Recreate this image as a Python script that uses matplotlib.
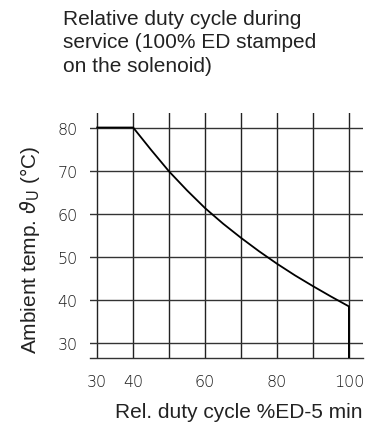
import matplotlib
matplotlib.use('Agg')
import matplotlib.pyplot as plt

# duty cycle (%ED) vs. max ambient temperature
ed = [30, 40, 45, 50, 55, 60, 65, 70, 75, 80, 85, 90, 95, 100, 100]
temp = [80, 80, 74.8, 69.8, 65.4, 61.3, 57.7, 54.4, 51.3, 48.4, 45.7, 43.2, 40.8, 38.5, 26.6]

xticks = [30, 40, 60, 80, 100]
yticks = [30, 40, 50, 60, 70, 80]
xgrid = [30, 40, 50, 60, 70, 80, 90, 100]

plt.rcParams['font.family'] = ['Liberation Sans', 'DejaVu Sans']

fig = plt.figure(figsize=(3.69, 4.35), dpi=100)
ax = fig.add_axes([90/369, 76.3/435, 273.3/369, 244.4/435])

for x in xgrid:
    ax.axvline(x, color='#222222', lw=1.0, zorder=1)
for y in yticks:
    ax.axhline(y, color='#333333', lw=1.0, zorder=1)

ax.plot(ed, temp, color='black', lw=1.3, zorder=3)

ax.set_xlim(28, 104)
ax.set_ylim(26.6, 83.3)
ax.set_xticks(xticks)
ax.set_yticks(yticks)
ax.tick_params(length=0, labelsize=11.5, colors='#1a1a1a')
ax.tick_params(axis='y', pad=9)
ax.tick_params(axis='x', pad=12)
for lab in ax.get_xticklabels() + ax.get_yticklabels():
    lab.set_family('DejaVu Sans')
    lab.set_fontweight('light')

for s in ['top', 'right', 'left']:
    ax.spines[s].set_visible(False)
ax.spines['bottom'].set_color('#333333')
ax.spines['bottom'].set_linewidth(1.0)

fig.text(63/369, 1 - 10/435,
         "Relative duty cycle during\nservice (100% ED stamped\non the solenoid)",
         ha='left', va='top', fontsize=15, color='#222222', linespacing=1.3)
fig.text(30/369, 1 - 250/435, r"Ambient temp. $\vartheta_{\mathrm{U}}$ (°C)",
         rotation=90, ha='center', va='center', fontsize=15, color='#222222')
fig.text(115/369, 1 - 413/435, "Rel. duty cycle %ED-5 min",
         ha='left', va='center', fontsize=15, color='#222222')

fig.savefig('out.png', dpi=100)
